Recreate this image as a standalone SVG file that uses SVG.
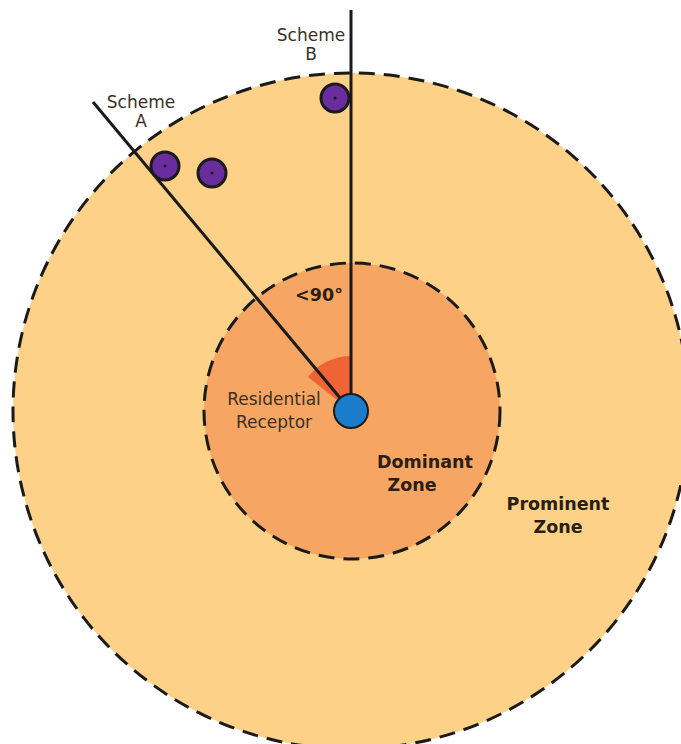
<svg xmlns="http://www.w3.org/2000/svg" width="681" height="744" viewBox="0 0 681 744">
<style>
.zone{stroke:#1a1a1a;stroke-width:3;stroke-dasharray:16 9}
.lbl{font-family:"DejaVu Sans","Liberation Sans",sans-serif;font-size:17px;fill:#3a3028;text-anchor:middle}
.bold{font-family:"DejaVu Sans","Liberation Sans",sans-serif;font-weight:bold;font-size:17.5px;fill:#2a1e16;text-anchor:middle}
.ln{stroke:#1a1a1a;stroke-width:3;fill:none}
.turb{fill:#6a2d9e;stroke:#1a1a1a;stroke-width:3}
</style>
<rect width="681" height="744" fill="#ffffff"/>
<g id="prominent-zone">
<circle class="zone" cx="351" cy="411" r="338" fill="#fdd187"/>
<text class="bold" x="558" y="510">Prominent</text>
<text class="bold" x="558" y="533">Zone</text>
</g>
<g id="dominant-zone">
<circle class="zone" cx="352" cy="411" r="148" fill="#f6a562"/>
<text class="bold" x="425" y="468">Dominant</text>
<text class="bold" x="412" y="491">Zone</text>
</g>
<g id="angle">
<path d="M351 411 L351 356 A55 55 0 0 0 308 377 Z" fill="#ee6434"/>
<text class="bold" x="319" y="301" font-size="20">&lt;90°</text>
</g>
<g id="connectors">
<line class="ln" x1="351" y1="10" x2="351" y2="411"/>
<line class="ln" x1="93" y1="102" x2="351" y2="411"/>
</g>
<g id="receptor">
<circle cx="351" cy="411" r="17" fill="#1b7cc9" stroke="#1a1a1a" stroke-width="2"/>
<text class="lbl" x="274" y="405">Residential</text>
<text class="lbl" x="274" y="428">Receptor</text>
</g>
<g id="scheme-a">
<text class="lbl" x="141" y="108">Scheme</text>
<text class="lbl" x="141" y="127">A</text>
<circle class="turb" cx="165" cy="166" r="14"/>
<circle cx="165" cy="166" r="1.5" fill="#1a1a1a"/>
<circle class="turb" cx="212" cy="173" r="14"/>
<circle cx="212" cy="173" r="1.5" fill="#1a1a1a"/>
</g>
<g id="scheme-b">
<text class="lbl" x="311" y="41">Scheme</text>
<text class="lbl" x="311" y="60">B</text>
<circle class="turb" cx="335" cy="98" r="14"/>
<circle cx="335" cy="98" r="1.5" fill="#1a1a1a"/>
</g>
</svg>
